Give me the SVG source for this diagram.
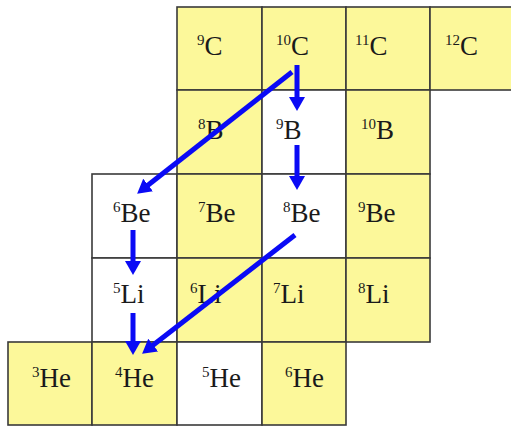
<svg xmlns="http://www.w3.org/2000/svg" width="511" height="429" viewBox="0 0 511 429">
<defs>
<style>
.y{fill:#FCF89A;stroke:#3A3A3A;stroke-width:1.6}
.w{fill:#FFFFFF;stroke:#3A3A3A;stroke-width:1.6}
.t{font-family:"Liberation Serif","Times New Roman",serif;font-size:27px;fill:#1A1A1A}
.s{font-size:15px}
.a{stroke:#0A0AF5;stroke-width:5;fill:none;marker-end:url(#ah)}
</style>
<marker id="ah" markerUnits="userSpaceOnUse" markerWidth="14" markerHeight="16" refX="4" refY="8" orient="auto">
<path d="M0,0 L14,8 L0,16 z" fill="#0A0AF5"/>
</marker>
</defs>
<rect width="511" height="429" fill="#FFFFFF"/>
<g id="c9"><rect class="y" x="177" y="7" width="85" height="83"/><text class="t" x="197" y="55"><tspan class="s" dy="-10">9</tspan><tspan dy="10">C</tspan></text></g>
<g id="c10"><rect class="y" x="262" y="7" width="84" height="83"/><text class="t" x="276" y="55"><tspan class="s" dy="-10">10</tspan><tspan dy="10">C</tspan></text></g>
<g id="c11"><rect class="y" x="346" y="7" width="84" height="83"/><text class="t" x="355" y="55"><tspan class="s" dy="-10">11</tspan><tspan dy="10">C</tspan></text></g>
<g id="c12"><rect class="y" x="430" y="7" width="95" height="83"/><text class="t" x="445" y="55"><tspan class="s" dy="-10">12</tspan><tspan dy="10">C</tspan></text></g>
<g id="b8"><rect class="y" x="177" y="90" width="85" height="84"/><text class="t" x="198" y="139"><tspan class="s" dy="-10">8</tspan><tspan dy="10">B</tspan></text></g>
<g id="b9"><rect class="w" x="262" y="90" width="84" height="84"/><text class="t" x="276" y="139"><tspan class="s" dy="-10">9</tspan><tspan dy="10">B</tspan></text></g>
<g id="b10"><rect class="y" x="346" y="90" width="84" height="84"/><text class="t" x="361" y="139"><tspan class="s" dy="-10">10</tspan><tspan dy="10">B</tspan></text></g>
<g id="be6"><rect class="w" x="92" y="174" width="85" height="84"/><text class="t" x="113" y="222"><tspan class="s" dy="-10">6</tspan><tspan dy="10">Be</tspan></text></g>
<g id="be7"><rect class="y" x="177" y="174" width="85" height="84"/><text class="t" x="198" y="222"><tspan class="s" dy="-10">7</tspan><tspan dy="10">Be</tspan></text></g>
<g id="be8"><rect class="w" x="262" y="174" width="84" height="84"/><text class="t" x="283" y="222"><tspan class="s" dy="-10">8</tspan><tspan dy="10">Be</tspan></text></g>
<g id="be9"><rect class="y" x="346" y="174" width="84" height="84"/><text class="t" x="358" y="222"><tspan class="s" dy="-10">9</tspan><tspan dy="10">Be</tspan></text></g>
<g id="li5"><rect class="w" x="92" y="258" width="85" height="84"/><text class="t" x="113" y="303"><tspan class="s" dy="-10">5</tspan><tspan dy="10">Li</tspan></text></g>
<g id="li6"><rect class="y" x="177" y="258" width="85" height="84"/><text class="t" x="190" y="303"><tspan class="s" dy="-10">6</tspan><tspan dy="10">Li</tspan></text></g>
<g id="li7"><rect class="y" x="262" y="258" width="84" height="84"/><text class="t" x="273" y="303"><tspan class="s" dy="-10">7</tspan><tspan dy="10">Li</tspan></text></g>
<g id="li8"><rect class="y" x="346" y="258" width="84" height="84"/><text class="t" x="358" y="303"><tspan class="s" dy="-10">8</tspan><tspan dy="10">Li</tspan></text></g>
<g id="he3"><rect class="y" x="8" y="342" width="84" height="83"/><text class="t" x="32" y="387"><tspan class="s" dy="-10">3</tspan><tspan dy="10">He</tspan></text></g>
<g id="he4"><rect class="y" x="92" y="342" width="85" height="83"/><text class="t" x="115" y="387"><tspan class="s" dy="-10">4</tspan><tspan dy="10">He</tspan></text></g>
<g id="he5"><rect class="w" x="177" y="342" width="85" height="83"/><text class="t" x="202" y="387"><tspan class="s" dy="-10">5</tspan><tspan dy="10">He</tspan></text></g>
<g id="he6"><rect class="y" x="262" y="342" width="84" height="83"/><text class="t" x="285" y="387"><tspan class="s" dy="-10">6</tspan><tspan dy="10">He</tspan></text></g>
<g id="connectors">
<line class="a" x1="297" y1="65" x2="297" y2="101"/>
<line class="a" x1="292" y1="72" x2="145" y2="187.5"/>
<line class="a" x1="297" y1="145" x2="297" y2="180"/>
<line class="a" x1="133" y1="230" x2="133" y2="265"/>
<line class="a" x1="133" y1="313" x2="133" y2="345"/>
<line class="a" x1="295" y1="235" x2="150" y2="347.5"/>
</g>
</svg>
